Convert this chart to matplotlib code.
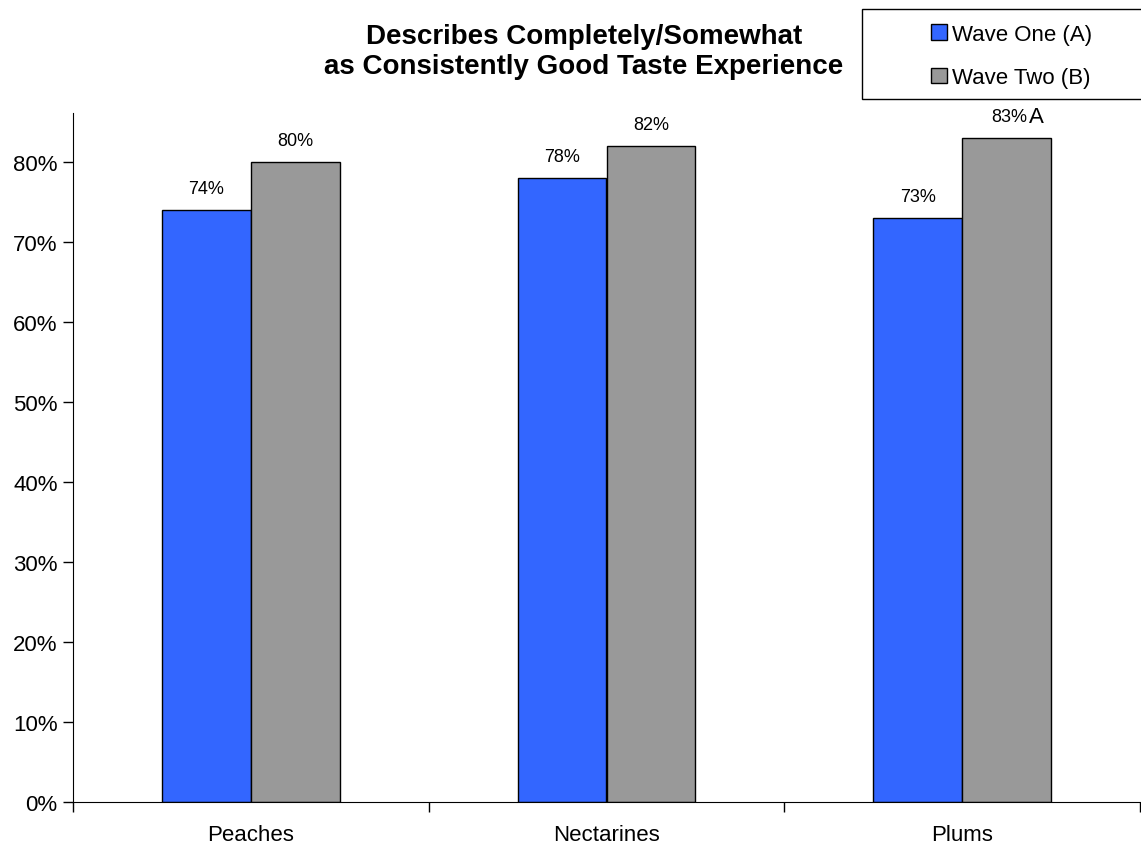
import numpy as np
import matplotlib
matplotlib.use("Agg")
import matplotlib.pyplot as plt
from matplotlib.patches import Rectangle
from matplotlib.ticker import PercentFormatter

categories = ["Peaches", "Nectarines", "Plums"]
wave_one = [74, 78, 73]
wave_two = [80, 82, 83]
sig_marks = ["", "", "A"]  # significance letters next to wave two labels
series_names = ["Wave One (A)", "Wave Two (B)"]
colors = ["#3366FF", "#999999"]

plt.rcParams["font.family"] = ["Liberation Sans", "DejaVu Sans"]

fig = plt.figure(figsize=(11.41, 8.45), dpi=100)
ax = fig.add_axes([73 / 1141, 1 - 803 / 845, 1067 / 1141, (803 - 114) / 845])

x = np.arange(len(categories))
w = 0.25
b1 = ax.bar(x - w / 2, wave_one, w, color=colors[0], edgecolor="black", linewidth=1, label=series_names[0])
b2 = ax.bar(x + w / 2, wave_two, w, color=colors[1], edgecolor="black", linewidth=1, label=series_names[1])

for rect, v in zip(b1, wave_one):
    ax.annotate("{}%".format(v), (rect.get_x() + rect.get_width() / 2, v),
                xytext=(0, 9), textcoords="offset points", ha="center", va="bottom", fontsize=13)
for rect, v, s in zip(b2, wave_two, sig_marks):
    cx = rect.get_x() + rect.get_width() / 2
    dx = 2 if s else 0
    ax.annotate("{}%".format(v), (cx, v), xytext=(dx, 9), textcoords="offset points",
                ha="center", va="bottom", fontsize=13)
    if s:
        ax.annotate(s, (cx, v), xytext=(16, 8), textcoords="offset points",
                    ha="left", va="bottom", fontsize=16)

ax.set_xlim(-0.5, len(categories) - 0.5)
ax.set_ylim(0, 86.1)
ax.set_yticks(np.arange(0, 81, 10))
ax.yaxis.set_major_formatter(PercentFormatter(decimals=0))
ax.set_xticks(x)
ax.set_xticklabels(categories)
ax.set_xticks(np.arange(-0.5, len(categories), 1), minor=True)
ax.tick_params(axis="x", which="major", length=0, pad=16, labelsize=16)
ax.tick_params(axis="x", which="minor", length=7, width=1, direction="out")
ax.tick_params(axis="y", length=7, width=1, direction="out", labelsize=16, pad=4)
ax.spines["top"].set_visible(False)
ax.spines["right"].set_visible(False)

fig.text(584 / 1141, 1 - 52 / 845, "Describes Completely/Somewhat\nas Consistently Good Taste Experience",
         ha="center", va="center", fontsize=20, fontweight="bold", linespacing=1.17)

fig.patches.append(Rectangle((862 / 1141, 1 - 100 / 845), 290 / 1141, 90 / 845,
                             transform=fig.transFigure, facecolor="white", edgecolor="black", linewidth=1))
fig.legend(handles=[b1, b2], labels=series_names, loc="center",
           bbox_to_anchor=(1012 / 1141, 1 - 57 / 845), frameon=False, fontsize=16,
           handlelength=0.7, handleheight=0.7, handletextpad=0.25, labelspacing=1.0)

fig.savefig("out.png", dpi=100)
